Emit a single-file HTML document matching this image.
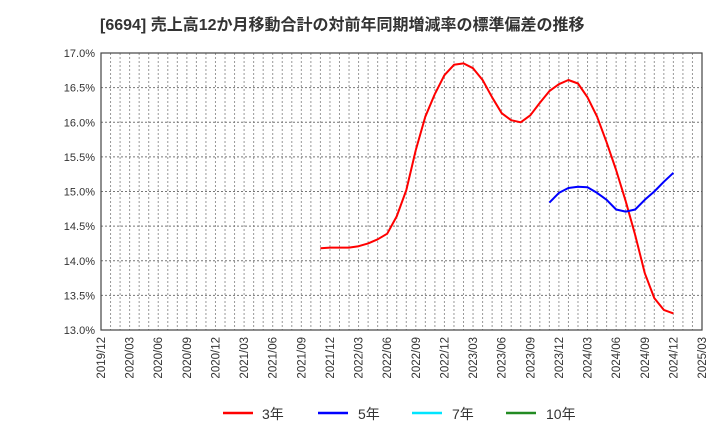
<!DOCTYPE html>
<html><head><meta charset="utf-8"><style>
body{margin:0;background:#fff;}
svg text{font-family:"Liberation Sans","Noto Sans CJK JP",sans-serif;}
</style></head><body>
<svg id="c" width="720" height="440" xmlns="http://www.w3.org/2000/svg">
<text x="100" y="30" text-anchor="start" font-size="16" font-weight="bold" fill="#333">[6694]  売上高12か月移動合計の対前年同期増減率の標準偏差の推移</text>
<g id="grid"></g><g id="axes"></g><g id="series"></g>
<g>
<g><line x1="223" y1="413" x2="253" y2="413" stroke="#ff0000" stroke-width="2.5"/><text x="262" y="419" font-size="14" fill="#333">3年</text></g>
<g><line x1="318" y1="413" x2="348" y2="413" stroke="#0000ff" stroke-width="2.5"/><text x="358" y="419" font-size="14" fill="#333">5年</text></g>
<g><line x1="412" y1="413" x2="442" y2="413" stroke="#00e5ff" stroke-width="2.5"/><text x="452" y="419" font-size="14" fill="#333">7年</text></g>
<g><line x1="506" y1="413" x2="536" y2="413" stroke="#228b22" stroke-width="2.5"/><text x="546" y="419" font-size="14" fill="#333">10年</text></g>
</g>
</svg>
<script>
const xTickLabels=["2019/12","2020/03","2020/06","2020/09","2020/12","2021/03","2021/06","2021/09","2021/12","2022/03","2022/06","2022/09","2022/12","2023/03","2023/06","2023/09","2023/12","2024/03","2024/06","2024/09","2024/12","2025/03"];
const yTicks=[13.0,13.5,14.0,14.5,15.0,15.5,16.0,16.5,17.0];
const red3Start=23; // months after 2019/12 (2021/11)
const red3=[14.18,14.19,14.19,14.19,14.21,14.25,14.31,14.39,14.64,15.02,15.6,16.08,16.41,16.68,16.83,16.85,16.78,16.61,16.36,16.13,16.03,16.0,16.1,16.28,16.45,16.55,16.61,16.56,16.36,16.08,15.71,15.31,14.86,14.37,13.82,13.46,13.29,13.24];
const blue5Start=47; // 2023/11
const blue5=[14.84,14.98,15.05,15.07,15.06,14.98,14.88,14.74,14.71,14.74,14.88,15.0,15.14,15.27];
const L=101,R=702,T=53,B=330,NM=63,YMIN=13,YMAX=17;
const X=m=>L+(R-L)*m/NM, Y=v=>B-(B-T)*(v-YMIN)/(YMAX-YMIN);
const NS="http://www.w3.org/2000/svg";
function mk(tag,attrs,parent){const e=document.createElementNS(NS,tag);for(const k in attrs)e.setAttribute(k,attrs[k]);parent.appendChild(e);return e;}
const grid=document.getElementById('grid'),axes=document.getElementById('axes'),ser=document.getElementById('series');
for(let m=1;m<NM;m++){const l=mk('line',{x1:X(m),x2:X(m),y1:T,y2:B,stroke:'#999','stroke-dasharray':'2,2','stroke-width':1},grid);

}
yTicks.forEach(v=>{const l=mk('line',{x1:L,x2:R,y1:Y(v),y2:Y(v),stroke:'#777','stroke-dasharray':'2,2','stroke-width':1},grid);


const t=mk('text',{x:L-6,y:Y(v)+4,'text-anchor':'end','font-size':11,fill:'#333'},axes);t.textContent=v.toFixed(1)+'%';

});
const fr=mk('rect',{x:L,y:T,width:R-L,height:B-T,fill:'none',stroke:'#444','stroke-width':1.2},axes);


xTickLabels.forEach((s,i)=>{const x=X(i*3);const t=mk('text',{x:0,y:0,'text-anchor':'end','font-size':11.5,fill:'#333',transform:`translate(${x+4},${B+7}) rotate(-90)`},axes);t.textContent=s;

});
function line(data,start,color,name){const p=data.map((v,i)=>X(start+i).toFixed(1)+','+Y(v).toFixed(1)).join(' ');
const e=mk('polyline',{points:p,fill:'none',stroke:color,'stroke-width':2,'stroke-linejoin':'round'},ser);

}
line(red3,red3Start,'#ff0000','series-3y');
line(blue5,blue5Start,'#0000ff','series-5y');
</script>
</body></html>
